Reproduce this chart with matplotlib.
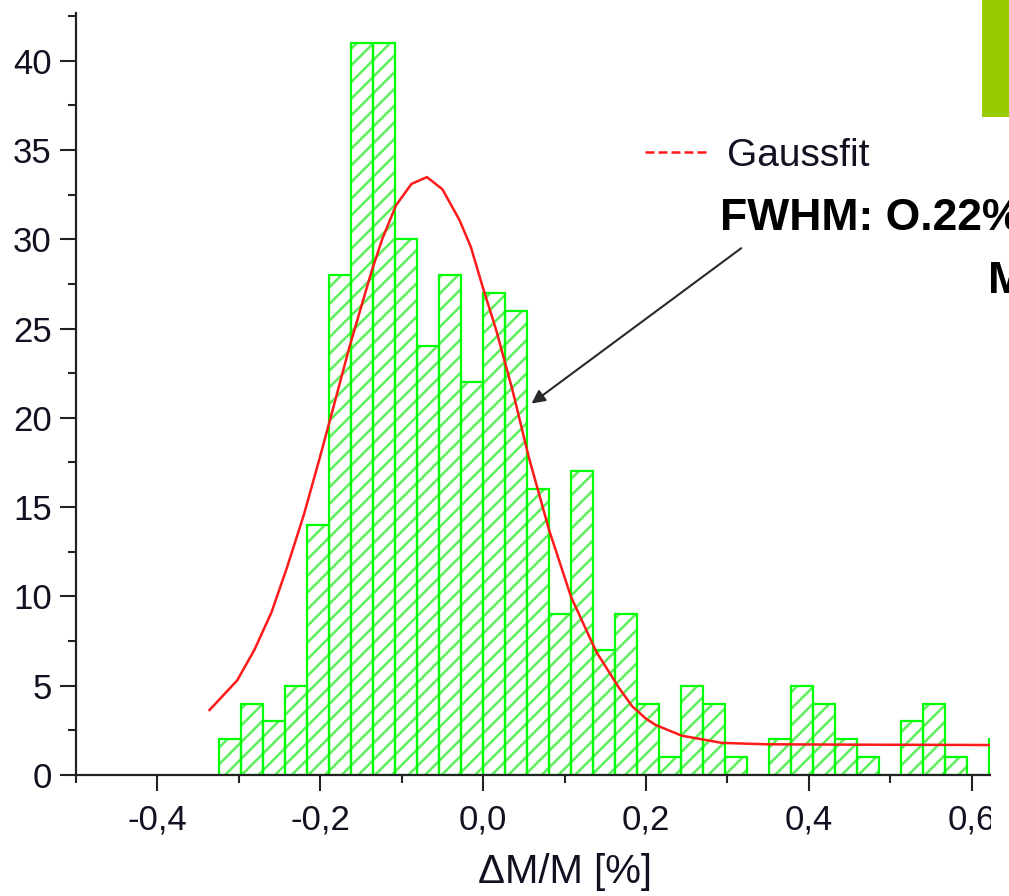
import numpy as np
import matplotlib
matplotlib.use('Agg')
import matplotlib.pyplot as plt
from matplotlib.lines import Line2D
from matplotlib.patches import Rectangle

plt.rcParams['font.family'] = ['Liberation Sans', 'DejaVu Sans']
plt.rcParams['hatch.linewidth'] = 1.8

# histogram of dM/M, bins of 0.027 % starting at -0.324 %
bin_start = -0.324
bin_width = 0.027
counts = [2, 4, 3, 5, 14, 28, 41, 41, 30, 24, 28, 22,
          27, 26, 16, 9, 17, 7, 9, 4, 1, 5, 4, 1, 0,
          2, 5, 4, 2, 1, 0, 3, 4, 1, 0, 2]

# gauss fit curve
fit_x = [-0.336, -0.302, -0.281, -0.260, -0.241, -0.220, -0.201, -0.185,
         -0.164, -0.137, -0.124, -0.107, -0.088, -0.069, -0.050, -0.029,
         -0.015, -0.001, 0.016, 0.036, 0.056, 0.081, 0.108, 0.139,
         0.167, 0.183, 0.200, 0.212, 0.244, 0.293, 0.347, 0.45, 0.621]
fit_y = [3.64, 5.3, 7.0, 9.1, 11.6, 14.6, 17.7, 20.4,
         24.0, 28.2, 30.0, 31.9, 33.1, 33.48, 32.8, 31.07,
         29.56, 27.4, 24.92, 21.56, 17.81, 13.72, 9.97, 6.9,
         4.87, 3.85, 3.15, 2.8, 2.2, 1.80, 1.72, 1.70, 1.68]

xticks = [-0.4, -0.2, 0.0, 0.2, 0.4, 0.6]
xticklabels = ['-0,4', '-0,2', '0,0', '0,2', '0,4', '0,6']

W, H = 1009, 896
fig = plt.figure(figsize=(W / 100, H / 100), dpi=100)
ax = fig.add_axes([76 / W, 1 - 775 / H, (990 - 76) / W, (775 - 13) / H])

edges = bin_start + bin_width * np.arange(len(counts))
# hatch in a lighter green, outline in full green
ax.bar(edges, counts, width=bin_width, align='edge', facecolor='none',
       edgecolor='#5cf05c', linewidth=0, hatch='//', zorder=2)
ax.bar(edges, counts, width=bin_width, align='edge', facecolor='none',
       edgecolor='#00ff00', linewidth=1.6, zorder=2)
ax.plot(fit_x, fit_y, color='#ff1a1a', lw=1.8, zorder=3)

ax.set_xlim(-0.5, 0.6225)
ax.set_ylim(0, 42.67)

for s in ['top', 'right']:
    ax.spines[s].set_visible(False)
for s in ['left', 'bottom']:
    ax.spines[s].set_linewidth(1.6)
    ax.spines[s].set_color('#222222')

ax.set_xticks(xticks)
ax.set_xticklabels(xticklabels)
ax.set_xticks([-0.5, -0.3, -0.1, 0.1, 0.3, 0.5], minor=True)
ax.set_yticks(np.arange(0, 41, 5))
ax.set_yticks(np.arange(2.5, 43, 5), minor=True)
ax.tick_params(which='major', direction='out', length=11.5, width=1.5,
               color='#222222', labelsize=25, labelcolor='#111122')
ax.tick_params(which='minor', direction='out', length=5.8, width=1.5,
               color='#222222')
ax.tick_params(axis='x', which='major', pad=9)
ax.tick_params(axis='y', which='major', pad=6)

ax.set_xlabel('ΔM/M [%]', fontsize=29, color='#111122')
ax.xaxis.set_label_coords((565 - 76) / (990 - 76), -0.103)

leg = ax.legend(handles=[Line2D([], [], color='#ff1a1a', lw=1.8, dashes=(3.6, 1.6))],
                labels=['Gaussfit'], loc='center left',
                bbox_to_anchor=(645 / W, 1 - 156 / H), bbox_transform=fig.transFigure,
                frameon=False, fontsize=28, handlelength=1.67, handletextpad=0.44,
                borderpad=0, borderaxespad=0)
for t in leg.get_texts():
    t.set_color('#111122')

ax.annotate('', xy=(0.0594, 20.8), xytext=(0.317, 29.5),
            arrowprops=dict(arrowstyle='-|>', color='#2a2a2a', lw=1.5,
                            mutation_scale=20, shrinkA=0, shrinkB=0))

fig.text(720 / W, 1 - 230 / H, 'FWHM: O.22%', fontsize=32, fontweight='bold',
         color='black', va='baseline')
fig.text(988 / W, 1 - 293 / H, 'M', fontsize=32, fontweight='bold',
         color='black', va='baseline')

# cover strip where the chart image ends, and the green slide block
fig.add_artist(Rectangle((991 / W, 0), (W - 991) / W, 1 - 330 / H,
                         transform=fig.transFigure, facecolor='white',
                         edgecolor='none', zorder=10))
fig.add_artist(Rectangle((982 / W, 1 - 117 / H), (W - 982) / W, 117 / H,
                         transform=fig.transFigure, facecolor='#99cc00',
                         edgecolor='none', zorder=11))

fig.savefig('out.png', dpi=100)
